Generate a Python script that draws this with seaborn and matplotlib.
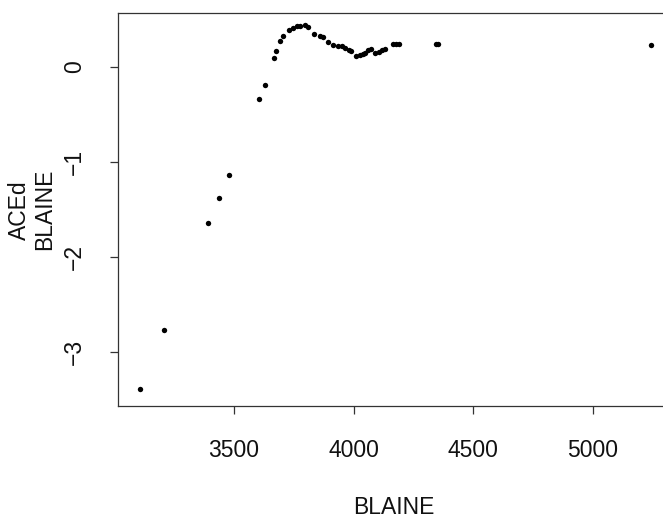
import matplotlib
matplotlib.use("Agg")
import matplotlib.pyplot as plt
import seaborn as sns
import pandas as pd

blaine = [3107, 3206, 3390, 3436, 3478, 3605, 3628, 3666, 3675, 3693,
          3703, 3728, 3746, 3765, 3777, 3796, 3810, 3836, 3858, 3871,
          3893, 3915, 3934, 3951, 3963, 3982, 3990, 4011, 4027, 4039,
          4048, 4060, 4071, 4088, 4106, 4120, 4130, 4166, 4179, 4189,
          4344, 4355, 5245]
aced = [-3.386, -2.766, -1.637, -1.374, -1.132, -0.333, -0.189, 0.098, 0.165, 0.277,
        0.326, 0.392, 0.415, 0.429, 0.433, 0.442, 0.419, 0.345, 0.331, 0.315,
        0.261, 0.231, 0.216, 0.216, 0.205, 0.184, 0.168, 0.116, 0.124, 0.140,
        0.152, 0.174, 0.189, 0.152, 0.156, 0.174, 0.186, 0.242, 0.242, 0.242,
        0.240, 0.240, 0.231]

x_ticks = [3500, 4000, 4500, 5000]
y_ticks = [-3, -2, -1, 0]

df = pd.DataFrame({"BLAINE": blaine, "ACEd": aced})

sns.set_style("white")
plt.rcParams["font.family"] = ["Liberation Sans", "DejaVu Sans"]

W, H = 663, 519
fig = plt.figure(figsize=(W / 100, H / 100), dpi=100)
left, right, top, bottom = 117.7, 669.5, 13.3, 406.0
ax = fig.add_axes([left / W, 1 - bottom / H, (right - left) / W, (bottom - top) / H])

sns.scatterplot(data=df, x="BLAINE", y="ACEd", ax=ax, color="black",
                s=15, linewidth=0, legend=False)

ax.set_xlim(3013, 5322)
ax.set_ylim(-3.565, 0.565)
ax.set_xticks(x_ticks)
ax.set_xticklabels([str(v) for v in x_ticks])
ax.set_yticks(y_ticks)
ax.set_yticklabels(["\u22123", "\u22122", "\u22121", "0"], rotation=90, va="center")

for sp in ax.spines.values():
    sp.set_visible(True)
    sp.set_color("#333333")
    sp.set_linewidth(0.9)

ax.tick_params(axis="both", which="both", direction="out", length=5.8, width=0.9,
               color="#333333", labelsize=16.5, labelcolor="#111111",
               bottom=True, left=True, top=False, right=False)
ax.tick_params(axis="x", pad=18)
ax.tick_params(axis="y", pad=17)

ax.set_xlabel("")
ax.set_ylabel("")
fig.text(394 / W, 1 - 508 / H, "BLAINE", ha="center", va="center",
         fontsize=16.5, color="#111111")
fig.text(32 / W, 1 - 209.7 / H, "ACEd\nBLAINE", ha="center", va="center",
         rotation=90, multialignment="center", linespacing=1.15,
         fontsize=16.5, color="#111111")

fig.savefig("out.png", dpi=100)
